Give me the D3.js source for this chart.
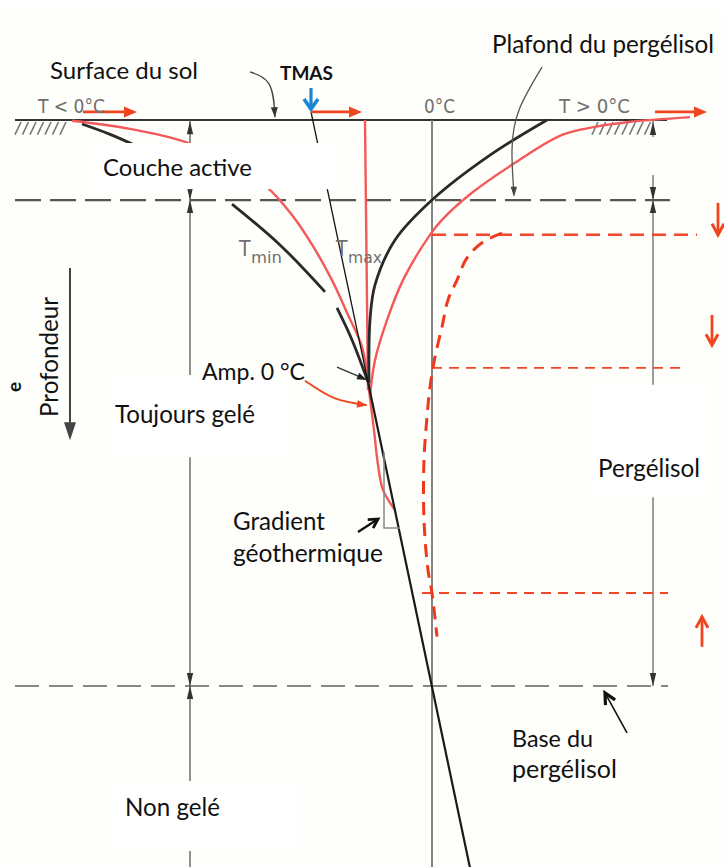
<!DOCTYPE html>
<html><head><meta charset="utf-8">
<script src="https://cdn.jsdelivr.net/npm/d3@7"></script>
<style>html,body{margin:0;padding:0;background:#fff;} svg{display:block;}</style>
</head><body>
<svg id="c" width="724" height="867"></svg>
<script>
// ---------- data (temperature °C, depth m) ----------
const tminBlackTop = [[-14.0,0.1],[-12.9,0.35],[-11.76,0.66]];
const tminBlackUpper = [[-8.0,2.08],[-6.08,3.09],[-4.28,4.25]];
const tminBlackLower = [[-3.8,4.65],[-3.2,5.44],[-2.56,6.48]];
const tmaxBlack = [[4.6,0],[2.32,0.87],[0,1.98],[-1.48,2.97],[-2.28,4.08],[-2.48,4.95],[-2.52,6.5]];
const tminRed = [[-14.4,0.02],[-12.08,0.22],[-9.88,0.54],[-8.08,1.04],[-6.6,1.66],[-5.6,2.35],[-4.76,3.12],[-3.96,4.01],[-3.4,4.77],[-2.8,5.61],[-2.52,6.6]];
const tmasRed = [[-2.68,0],[-2.56,6.68]];
const tmaxRed = [[10.32,-0.07],[7.88,0.05],[6.52,0.17],[5.2,0.37],[3.32,1.06],[1.6,1.8],[0.4,2.47],[-0.08,2.84],[-1.16,3.96],[-1.8,4.95],[-2.28,5.94],[-2.48,6.8]];
const redDeep = [[-2.52,6.68],[-2.32,7.67],[-2.16,8.53],[-1.96,9.15],[-1.48,9.65]];
const geoThin = [[-4.84,-0.2],[-2.56,6.48]];
const geoThick = [[-2.56,6.48],[1.52,18.5]];
const warmedProfile = [[2.8,2.8],[2.04,3.02],[1.4,3.41],[1.0,3.96],[0.64,4.45],[0.4,5.12],[0.12,5.86],[-0.08,6.6],[-0.2,7.35],[-0.32,8.4],[-0.32,9.89],[-0.16,11.13],[0,11.7],[0.2,12.78]];
const shiftLevels = [2.84, 6.13, 11.7];
const shiftLevelFrom = [0, 0, -0.4];
const shiftLevelTo = [10.6, 9.92, 9.44];
const shiftArrowT = [11.44, 11.2, 10.8];
const shiftArrowFrom = [2.05, 4.82, 13.03];
const shiftArrowTo = [2.84, 5.57, 12.29];
const surfArrowFrom = [-13.96, -4.84, 8.92];
const surfArrowTo = [-11.8, -2.8, 11.0];
const surfaceDepth = 0, tableDepth = 1.98, baseDepth = 14;
const tmasT = -4.84;
const zeroT = 0;

// ---------- scales ----------
const W = 724, H = 867;
const x = d3.scaleLinear().domain([-10, 10]).range([182, 682]);
const y = d3.scaleLinear().domain([0, 14]).range([120, 686]);
const svg = d3.select('#c');
const FONT = "Lato, 'Open Sans', sans-serif";
const NARROW = "'Liberation Sans Narrow','DejaVu Sans Condensed','Liberation Sans',sans-serif";

svg.append('rect').attr('x', 0).attr('y', 12).attr('width', W).attr('height', H - 12).attr('fill', '#fefefb');

const line = d3.line().x(p => x(p[0])).y(p => y(p[1])).curve(d3.curveCatmullRom.alpha(0.5));
const straight = d3.line().x(p => x(p[0])).y(p => y(p[1]));

function head(g, tip, from, len, hw, color, chevron, sw) {
  const a = Math.atan2(tip[1] - from[1], tip[0] - from[0]);
  const bx = tip[0] - len * Math.cos(a), by = tip[1] - len * Math.sin(a);
  const px = -Math.sin(a) * hw, py = Math.cos(a) * hw;
  if (chevron) {
    g.append('path').attr('d', `M${bx + px},${by + py}L${tip[0]},${tip[1]}L${bx - px},${by - py}`)
      .attr('fill', 'none').attr('stroke', color).attr('stroke-width', sw || 3).attr('stroke-linejoin', 'miter');
  } else {
    g.append('path').attr('d', `M${bx + px},${by + py}L${tip[0]},${tip[1]}L${bx - px},${by - py}Z`).attr('fill', color);
  }
}
function P(T, d) { return [x(T), y(d)]; }

// ---------- ground & reference lines ----------
const g = svg.append('g');
g.append('path').attr('d', straight([[-16.68, surfaceDepth], [9.4, surfaceDepth]])).attr('stroke', '#333').attr('stroke-width', 2).attr('fill', 'none');
// hatching
[[-16.68, -14.6], [6.4, 8.52]].forEach(r => {
  for (let t = r[0]; t <= r[1]; t += 0.3) {
    g.append('line').attr('x1', x(t)).attr('y1', y(0.36)).attr('x2', x(t) + 6).attr('y2', y(0.05))
      .attr('stroke', '#777').attr('stroke-width', 1.6);
  }
});
g.append('path').attr('d', straight([[-16.68, tableDepth], [9.52, tableDepth]])).attr('stroke', '#555').attr('stroke-width', 2.2)
  .attr('stroke-dasharray', '26 9').attr('fill', 'none');
g.append('path').attr('d', straight([[-16.68, baseDepth], [9.44, baseDepth]])).attr('stroke', '#888').attr('stroke-width', 2.2)
  .attr('stroke-dasharray', '24 10').attr('fill', 'none');
// 0°C line
g.append('path').attr('d', straight([[zeroT, 0], [zeroT, 18.6]])).attr('stroke', '#777').attr('stroke-width', 1.8).attr('fill', 'none');

// dimension lines
const dimL = -9.68, dimR = 8.84;
[[0, 1.98], [1.98, 6.31], [8.34, 14], [14, 18.6]].forEach(s =>
  g.append('path').attr('d', straight([[dimL, s[0]], [dimL, s[1]]])).attr('stroke', '#555').attr('stroke-width', 1.3));
[[0.02, 0.42], [1.36, 1.98], [1.98, 6.55], [9.33, 14]].forEach(s =>
  g.append('path').attr('d', straight([[dimR, s[0]], [dimR, s[1]]])).attr('stroke', '#666').attr('stroke-width', 1.3));
function dimHead(T, d, dir) { // dir -1: pointing up, +1 pointing down
  head(g, P(T, d), [x(T), y(d) - dir * 14], 13, 3.2, '#333');
}
dimHead(dimL, 0.03, -1); dimHead(dimL, tableDepth, 1); dimHead(dimL, tableDepth, -1); dimHead(dimL, baseDepth, 1); dimHead(dimL, baseDepth, -1);
dimHead(dimR, 0.05, -1); dimHead(dimR, tableDepth, 1); dimHead(dimR, tableDepth, -1); dimHead(dimR, baseDepth, 1);

// ---------- red dashed shifts ----------
shiftLevels.forEach((d, i) => {
  g.append('path').attr('d', straight([[shiftLevelFrom[i], d], [shiftLevelTo[i], d]])).attr('fill', 'none')
    .attr('stroke', '#f2452a').attr('stroke-width', i === 0 ? 2.6 : 1.8).attr('stroke-dasharray', i === 0 ? '14 8' : '10 7');
});
g.append('path').attr('d', line(warmedProfile)).attr('fill', 'none').attr('stroke', '#f2381c').attr('stroke-width', 3).attr('stroke-dasharray', '13 8');

// ---------- profiles ----------
g.append('path').attr('d', line(tminRed)).attr('fill', 'none').attr('stroke', '#f25a5a').attr('stroke-width', 2.4);
g.append('path').attr('d', straight(tmasRed)).attr('fill', 'none').attr('stroke', '#f25a5a').attr('stroke-width', 2.4);
g.append('path').attr('d', line(tmaxRed)).attr('fill', 'none').attr('stroke', '#f25a5a').attr('stroke-width', 2.4);
g.append('path').attr('d', line(redDeep)).attr('fill', 'none').attr('stroke', '#f25a5a').attr('stroke-width', 2.4);
[tminBlackTop, tminBlackUpper, tminBlackLower, tmaxBlack].forEach(a =>
  g.append('path').attr('d', line(a)).attr('fill', 'none').attr('stroke', '#2a2a2a').attr('stroke-width', 2.8));
g.append('path').attr('d', straight(geoThin)).attr('fill', 'none').attr('stroke', '#111').attr('stroke-width', 1.3);
g.append('path').attr('d', straight(geoThick)).attr('fill', 'none').attr('stroke', '#1a1a1a').attr('stroke-width', 2.2);
// gradient marker
g.append('path').attr('d', straight([[-1.92, 8.21], [-1.92, 10.09], [-1.28, 10.09]])).attr('fill', 'none').attr('stroke', '#888').attr('stroke-width', 1.5);

// ---------- arrows ----------
surfArrowFrom.forEach((t, i) => {
  const a = P(t, -0.2), b = P(surfArrowTo[i], -0.2);
  g.append('line').attr('x1', a[0]).attr('y1', a[1]).attr('x2', b[0] - 8).attr('y2', b[1]).attr('stroke', '#f0451e').attr('stroke-width', 2.6);
  head(g, b, a, 13, 5.5, '#f0451e');
});
shiftArrowT.forEach((t, i) => {
  const a = P(t, shiftArrowFrom[i]), b = P(t, shiftArrowTo[i]);
  g.append('line').attr('x1', a[0]).attr('y1', a[1]).attr('x2', b[0]).attr('y2', b[1]).attr('stroke', '#f0451e').attr('stroke-width', 2.8);
  head(g, b, a, 11, 6, '#f0451e', true, 3);
});
// blue TMAS arrow
{
  const a = P(tmasT, -0.79), b = P(tmasT, -0.27);
  g.append('line').attr('x1', a[0]).attr('y1', a[1]).attr('x2', b[0]).attr('y2', b[1]).attr('stroke', '#1a85d6').attr('stroke-width', 3.2);
  head(g, b, a, 10, 7, '#1a85d6', true, 3.6);
}
// Surface du sol pointer
{
  const s = [[-7.28, -1.19], [-6.5, -0.87], [-6.28, -0.07]];
  g.append('path').attr('d', d3.line().x(p => x(p[0])).y(p => y(p[1])).curve(d3.curveNatural)(s)).attr('fill', 'none').attr('stroke', '#444').attr('stroke-width', 1.3);
  head(g, P(-6.28, -0.07), P(-6.33, -0.5), 10, 3.5, '#333');
}
// Plafond pointer
{
  const s = [[4.4, -1.31], [3.48, -0.25], [3.2, 0.74], [3.28, 1.86]];
  g.append('path').attr('d', d3.line().x(p => x(p[0])).y(p => y(p[1])).curve(d3.curveNatural)(s)).attr('fill', 'none').attr('stroke', '#555').attr('stroke-width', 1.3);
  head(g, P(3.28, 1.9), P(3.27, 1.5), 10, 3.2, '#444');
}
// Amp. 0°C pointers
{
  const s = [[-5.08, 6.45], [-3.9, 6.88], [-2.62, 7.05]];
  g.append('path').attr('d', d3.line().x(p => x(p[0])).y(p => y(p[1])).curve(d3.curveNatural)(s)).attr('fill', 'none').attr('stroke', '#f0451e').attr('stroke-width', 2);
  head(g, P(-2.6, 7.06), P(-3.2, 7.0), 10, 4, '#f0451e');
  const a = P(-3.8, 6.11), b = P(-2.6, 6.43);
  g.append('line').attr('x1', a[0]).attr('y1', a[1]).attr('x2', b[0]).attr('y2', b[1]).attr('stroke', '#333').attr('stroke-width', 1.4);
  head(g, b, a, 10, 3.5, '#222');
}
// Gradient arrow
{
  const a = P(-2.96, 10.19), b = P(-2.16, 9.87);
  g.append('line').attr('x1', a[0]).attr('y1', a[1]).attr('x2', b[0]).attr('y2', b[1]).attr('stroke', '#111').attr('stroke-width', 2.4);
  head(g, b, a, 9, 5, '#111', true, 2.8);
}
// Base arrow
{
  const a = P(7.8, 15.16), b = P(6.92, 14.17);
  g.append('line').attr('x1', a[0]).attr('y1', a[1]).attr('x2', b[0]).attr('y2', b[1]).attr('stroke', '#111').attr('stroke-width', 1.6);
  head(g, b, a, 11, 5.5, '#111', true, 3.2);
}
// Profondeur arrow
{
  const a = P(-14.48, 3.66), b = P(-14.48, 7.92);
  g.append('line').attr('x1', a[0]).attr('y1', a[1]).attr('x2', b[0]).attr('y2', b[1] - 8).attr('stroke', '#444').attr('stroke-width', 2);
  head(g, b, a, 18, 6, '#444');
}

// ---------- white label boxes ----------
const boxes = [[-13.76, -3.76, 0.57, 1.71], [-12.96, -5.68, 6.36, 8.31], [6.32, 11.2, 6.6, 9.3], [-12.8, -5.36, 16.35, 18.08]];
boxes.forEach(b => g.append('rect').attr('x', x(b[0])).attr('y', y(b[2])).attr('width', x(b[1]) - x(b[0])).attr('height', y(b[3]) - y(b[2])).attr('fill', '#fff'));

// ---------- labels ----------
function fit(t, w, base) {
  const m = t.node().getComputedTextLength();
  t.attr('font-size', base * w / m);
}
const labels = [
  ['Surface du sol', -15.28, -1.014, 148, 400],
  ['TMAS', -6.08, -0.989, 53, 700],
  ['Plafond du pergélisol', 2.4, -1.657, 222, 400],
  ['Couche active', -13.16, 1.385, 149, 400],
  ['Amp. 0 °C', -9.2, 6.431, 103, 400],
  ['Toujours gelé', -12.68, 7.495, 140, 400],
  ['Gradient', -7.96, 10.141, 92, 400],
  ['géothermique', -7.96, 10.933, 150, 400],
  ['Pergélisol', 6.64, 8.83, 102, 400],
  ['Base du', 3.2, 15.509, 81, 400],
  ['pergélisol', 3.2, 16.275, 105, 400],
  ['Non gelé', -12.28, 17.215, 95, 400]
];
labels.forEach(l => {
  const t = g.append('text').attr('x', x(l[1])).attr('y', y(l[2])).attr('font-family', FONT).attr('font-weight', l[4])
    .attr('font-size', 20).attr('fill', '#111').text(l[0]);
  fit(t, l[3], 20);
});
// gray scanned labels
[['T < 0°C', -15.76, 67], ['0°C', -0.32, 31], ['T > 0°C', 5.08, 71]].forEach(l => {
  g.append('text').attr('x', x(l[1])).attr('y', y(-0.173)).attr('font-family', NARROW).attr('font-size', 19).attr('fill', '#6f6f6f')
    .attr('textLength', l[2]).attr('lengthAdjust', 'spacingAndGlyphs').text(l[0]);
});
[['min', -7.72, 31], ['max', -3.84, 34]].forEach(l => {
  const t = g.append('text').attr('x', x(l[1])).attr('y', y(3.364)).attr('font-family', NARROW).attr('font-size', 21).attr('fill', '#6f6f6f').text('T');
  const tw = t.node().getComputedTextLength();
  g.append('text').attr('x', x(l[1]) + tw + 0.5).attr('y', y(3.537)).attr('font-family', NARROW).attr('font-size', 16).attr('fill', '#6f6f6f')
    .attr('textLength', l[2]).attr('lengthAdjust', 'spacingAndGlyphs').text(l[0]);
});
// rotated
{
  const t = g.append('text').attr('transform', `translate(${x(-14.96)},${y(5.862)}) rotate(-90)`).attr('text-anchor', 'middle')
    .attr('font-family', FONT).attr('font-size', 20).attr('fill', '#111').text('Profondeur');
  fit(t, 120, 20);
  g.append('text').attr('transform', `translate(${x(-16.44)},${y(6.728)}) rotate(-90)`).attr('font-family', FONT)
    .attr('font-size', 19).attr('font-weight', 700).attr('fill', '#111').text('e');
}
</script>
</body></html>
